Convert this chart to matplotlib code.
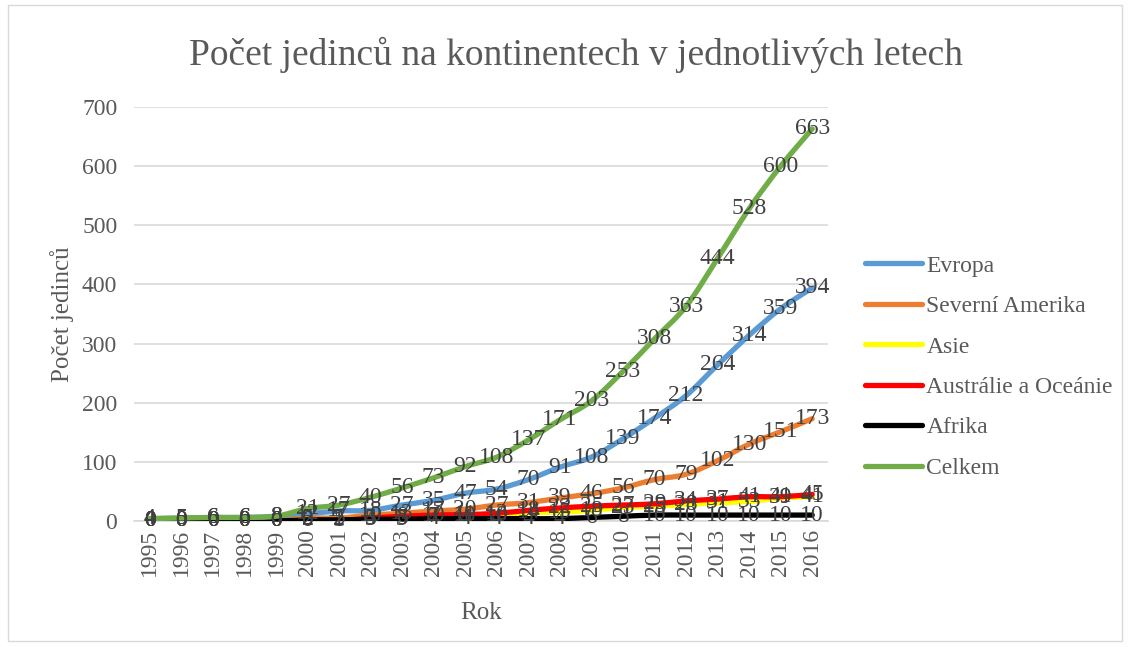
import numpy as np
import matplotlib
matplotlib.use("Agg")
import matplotlib.pyplot as plt
from matplotlib.path import Path
from matplotlib.patches import PathPatch, Rectangle

years = list(range(1995, 2017))
evropa = [4, 5, 6, 6, 8, 12, 17, 18, 27, 35, 47, 54, 70, 91, 108, 139, 174, 212, 264, 314, 359, 394]
severni_amerika = [0, 0, 0, 0, 0, 5, 5, 10, 13, 17, 20, 27, 31, 39, 46, 56, 70, 79, 102, 130, 151, 173]
asie = [0, 0, 0, 0, 0, 2, 2, 4, 5, 7, 10, 10, 14, 15, 18, 23, 25, 28, 31, 33, 39, 41]
australie = [0, 0, 0, 0, 0, 0, 1, 5, 8, 10, 11, 13, 18, 22, 25, 27, 29, 34, 37, 41, 41, 45]
afrika = [0, 0, 0, 0, 0, 2, 2, 3, 3, 4, 4, 4, 4, 4, 6, 8, 10, 10, 10, 10, 10, 10]
celkem = [4, 5, 6, 6, 8, 21, 27, 40, 56, 73, 92, 108, 137, 171, 203, 253, 308, 363, 444, 528, 600, 663]

names = ["Evropa", "Severní Amerika", "Asie", "Austrálie a Oceánie", "Afrika", "Celkem"]
series = [evropa, severni_amerika, asie, australie, afrika, celkem]
colors = ["#5B9BD5", "#ED7D31", "#FFFF00", "#FF0000", "#000000", "#70AD47"]

plt.rcParams['font.family'] = ['Liberation Serif', 'DejaVu Serif']

fig = plt.figure(figsize=(11.3, 6.47), dpi=100)
ax = fig.add_axes([134 / 1130, 126 / 647, 694 / 1130, 414 / 647])

x = np.arange(len(years))


def smooth_path(xs, ys):
    # excel-like smoothed line: bezier segments through the points
    verts = [(xs[0], ys[0])]
    codes = [Path.MOVETO]
    n = len(xs)
    for i in range(n - 1):
        p0 = (xs[max(i - 1, 0)], ys[max(i - 1, 0)])
        p1 = (xs[i], ys[i])
        p2 = (xs[i + 1], ys[i + 1])
        p3 = (xs[min(i + 2, n - 1)], ys[min(i + 2, n - 1)])
        c1 = (p1[0] + (p2[0] - p0[0]) / 6, p1[1] + (p2[1] - p0[1]) / 6)
        c2 = (p2[0] - (p3[0] - p1[0]) / 6, p2[1] - (p3[1] - p1[1]) / 6)
        verts += [c1, c2, p2]
        codes += [Path.CURVE4] * 3
    return Path(verts, codes)


for name, vals, c in zip(names, series, colors):
    patch = PathPatch(smooth_path(x, vals), facecolor="none", edgecolor=c,
                      lw=3.8, capstyle="round", joinstyle="round", zorder=3)
    ax.add_patch(patch)
    ax.plot([], [], color=c, lw=3.8, solid_capstyle="round", label=name)

for vals in series:
    for xi, v in zip(x, vals):
        ax.text(xi, v, str(v), ha="center", va="center", fontsize=17,
                color="#404040", zorder=5)

ax.set_xlim(-0.5, len(years) - 0.5)
ax.set_ylim(0, 700)
ax.set_yticks(range(0, 701, 100))
ax.set_xticks(x)
ax.set_xticklabels([str(y) for y in years], rotation=90)
ax.tick_params(axis="both", length=0, labelsize=17, labelcolor="#595959")
ax.tick_params(axis="y", pad=12)
ax.tick_params(axis="x", pad=6)
ax.grid(axis="y", color="#D9D9D9", lw=1.2)
ax.set_axisbelow(True)
for s in ["top", "right", "left"]:
    ax.spines[s].set_visible(False)
ax.spines["bottom"].set_color("#D9D9D9")
ax.spines["bottom"].set_linewidth(1.2)

ax.set_xlabel("Rok", fontsize=18, color="#595959", labelpad=18)
ax.set_ylabel("Počet jedinců", fontsize=18, color="#595959", labelpad=6)
fig.text(576 / 1130, 1 - 55 / 647, "Počet jedinců na kontinentech v jednotlivých letech",
         ha="center", va="center", fontsize=27, color="#595959")

leg = ax.legend(loc="center left", bbox_to_anchor=(865 / 1130, 1 - 367 / 647),
                bbox_transform=fig.transFigure, frameon=False, fontsize=17,
                handlelength=2.4, labelspacing=0.8, handletextpad=0.2,
                borderaxespad=0, borderpad=0)
for t in leg.get_texts():
    t.set_color("#595959")

fig.patches.append(Rectangle((8 / 1130, 6 / 647), 1114 / 1130, 636 / 647,
                             transform=fig.transFigure, fill=False,
                             edgecolor="#D9D9D9", lw=1))

fig.savefig("out.png", dpi=100)
